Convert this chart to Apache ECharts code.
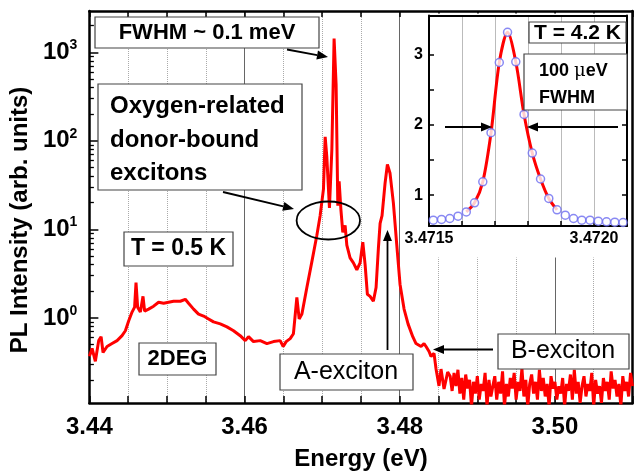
<!DOCTYPE html>
<html>
<head>
<meta charset="utf-8">
<script src="https://cdn.jsdelivr.net/npm/echarts@6/dist/echarts.min.js"></script>
<style>
html, body { margin: 0; padding: 0; background: #fff; }
#main { width: 636px; height: 476px; }
</style>
</head>
<body>
<div id="main"></div>
<script>
// spectrum at T = 0.5 K (eV, arb. units)
var energy = [
  3.4400, 3.44035, 3.44077, 3.44120, 3.44151, 3.44176, 3.44228, 3.44292, 3.44357, 3.44421,
  3.44464, 3.44506, 3.44550, 3.44583, 3.44601, 3.44622, 3.44657, 3.44691, 3.44712, 3.44763,
  3.44828, 3.44892, 3.44957, 3.45021, 3.45085, 3.45172, 3.45236, 3.45278, 3.45343, 3.45407,
  3.45472, 3.45536, 3.45600, 3.45687, 3.45773, 3.45858, 3.45944, 3.46009, 3.46051, 3.46115,
  3.46202, 3.46288, 3.46373, 3.46459, 3.46498, 3.46536, 3.46588, 3.46630, 3.46674, 3.46704,
  3.46739, 3.46803, 3.46867, 3.46932, 3.46974, 3.47017, 3.47039, 3.47060, 3.47094, 3.47125,
  3.47154, 3.47180, 3.47202, 3.47219, 3.47241, 3.47266, 3.47296, 3.47318, 3.47360, 3.47403,
  3.47447, 3.47489, 3.47524, 3.47554, 3.47583, 3.47618, 3.47660, 3.47695, 3.47725, 3.47747,
  3.47772, 3.47811, 3.47841, 3.47875, 3.47918, 3.47962, 3.48004, 3.48056, 3.48107, 3.48168,
  3.48210, 3.48275, 3.48313, 3.48339, 3.48378, 3.48403, 3.48442, 3.48468, 3.48506, 3.48532,
  3.48571, 3.48618
];
var intensity = [
  0.369, 0.453, 0.324, 0.555, 0.615, 0.408, 0.476, 0.514, 0.555, 0.631,
  0.717, 0.926, 1.166, 1.325, 2.51, 1.325, 1.166, 1.755, 1.196, 1.259,
  1.359, 1.506, 1.468, 1.506, 1.545, 1.545, 1.626, 1.468, 1.259, 1.107,
  1.052, 0.975, 0.903, 0.858, 0.794, 0.717, 0.631, 0.555, 0.615, 0.541,
  0.555, 0.514, 0.541, 0.555, 0.476, 0.541, 0.585, 0.664, 1.71, 0.975,
  1.107, 2.21, 4.30, 8.58, 14.3, 28.5, 110.8, 66.4, 17.5, 79.4,
  1430, 430, 18.5, 35.0, 17.1, 9.26, 11.1, 6.64, 4.76, 4.19,
  3.50, 4.19, 7.17, 3.98, 1.85, 1.755, 1.545, 2.21, 6.15, 11.7,
  14.3, 33.3, 54.1, 43.0, 19.95, 6.64, 2.39, 1.259, 0.858, 0.615,
  0.514, 0.476, 0.514, 0.476, 0.419, 0.369, 0.398, 0.265, 0.171, 0.265,
  0.158, 0.245
];
// noisy high energy tail
var tailEnergy = [
  3.48650, 3.48675, 3.48700, 3.48725, 3.48750, 3.48775, 3.48800, 3.48825, 3.48850, 3.48875,
  3.48900, 3.48925, 3.48950, 3.48975, 3.49000, 3.49025, 3.49050, 3.49075, 3.49100, 3.49125,
  3.49150, 3.49175, 3.49200, 3.49225, 3.49250, 3.49275, 3.49300, 3.49325, 3.49350, 3.49375,
  3.49400, 3.49425, 3.49450, 3.49475, 3.49500, 3.49525, 3.49550, 3.49575, 3.49600, 3.49625,
  3.49650, 3.49675, 3.49700, 3.49725, 3.49750, 3.49775, 3.49800, 3.49825, 3.49850, 3.49875,
  3.49900, 3.49925, 3.49950, 3.49975, 3.50000, 3.50025, 3.50050, 3.50075, 3.50100, 3.50125,
  3.50150, 3.50175, 3.50200, 3.50225, 3.50250, 3.50275, 3.50300, 3.50325, 3.50350, 3.50375,
  3.50400, 3.50425, 3.50450, 3.50475, 3.50500, 3.50525, 3.50550, 3.50575, 3.50600, 3.50625,
  3.50650, 3.50675, 3.50700, 3.50725, 3.50750, 3.50775, 3.50800, 3.50825, 3.50850, 3.50875,
  3.50900, 3.50925, 3.50950, 3.50975, 3.51000
];
var tailIntensity = [
  0.22, 0.15, 0.24, 0.17, 0.26, 0.14, 0.21, 0.12, 0.23, 0.16,
  0.20, 0.10, 0.19, 0.14, 0.22, 0.12, 0.18, 0.15, 0.24, 0.10,
  0.20, 0.13, 0.17, 0.22, 0.12, 0.19, 0.14, 0.25, 0.10, 0.18,
  0.13, 0.21, 0.16, 0.24, 0.12, 0.19, 0.15, 0.27, 0.13, 0.20,
  0.10, 0.18, 0.23, 0.14, 0.19, 0.12, 0.26, 0.15, 0.21, 0.13,
  0.18, 0.10, 0.22, 0.16, 0.19, 0.12, 0.17, 0.14, 0.21, 0.10,
  0.18, 0.15, 0.23, 0.12, 0.26, 0.14, 0.19, 0.11, 0.17, 0.22,
  0.13, 0.18, 0.15, 0.24, 0.10, 0.20, 0.14, 0.17, 0.11, 0.21,
  0.15, 0.19, 0.12, 0.25, 0.16, 0.20, 0.13, 0.18, 0.10, 0.22,
  0.15, 0.19, 0.13, 0.24, 0.17
];

// inset, T = 4.2 K, measured points
var insetEnergy = [
  3.471513, 3.471538, 3.471563, 3.471588, 3.471613, 3.471638, 3.471663, 3.471688,
  3.471713, 3.471738, 3.471763, 3.471788, 3.471813, 3.471838, 3.471863, 3.471888,
  3.471913, 3.471938, 3.471963, 3.471988, 3.472013, 3.472038, 3.472063, 3.472088
];
var insetIntensity = [
  0.643, 0.653, 0.667, 0.70, 0.761, 0.89, 1.19, 1.89,
  2.89, 3.32, 2.90, 2.15, 1.60, 1.23, 0.953, 0.79,
  0.714, 0.667, 0.643, 0.643, 0.629, 0.619, 0.614, 0.61
];

var xTickLabels = ['3.44', '3.46', '3.48', '3.50'];
var yDecades = [0, 1, 2, 3];
var insetXTickLabels = ['3.4715', '3.4720'];
var insetYTickLabels = [1, 2, 3];

var FONT = '"Liberation Sans", Arial, sans-serif';
var yMin = -0.96, yMax = 3.466;

var mainData = energy.concat(tailEnergy).map(function (e, i) {
    var v = i < intensity.length ? intensity[i] : tailIntensity[i - intensity.length];
    return [e, Math.log10(v)];
});
var insetData = insetEnergy.map(function (e, i) { return [e, insetIntensity[i]]; });
var fitData = insetData.slice(4, 16);

// minor log ticks
var minorTicks = [];
for (var d = -1; d <= 3; d++) {
    for (var k = 2; k <= 9; k++) {
        var t = d + Math.log10(k);
        if (t > yMin && t < yMax) minorTicks.push(t);
    }
}

var black = { color: '#000', width: 2.5 };
var boldLabel = { fontFamily: FONT, fontWeight: 'bold', fontSize: 24, color: '#000' };

function box(x, y, w, h) {
    return { type: 'rect', z: 40, shape: { x: x, y: y, width: w, height: h },
        style: { fill: '#fff', stroke: '#444', lineWidth: 1.2 } };
}
function label(txt, x, y, size, weight, align) {
    return { type: 'text', z: 41, x: x, y: y,
        style: { text: txt, font: weight + ' ' + size + 'px ' + FONT, fill: '#000',
            textAlign: align || 'center', textVerticalAlign: 'middle',
            align: align || 'center', verticalAlign: 'middle' } };
}
function arrow(x1, y1, x2, y2) {
    var a = Math.atan2(y2 - y1, x2 - x1), L = 11, W = 4.5;
    var bx = x2 - L * Math.cos(a), by = y2 - L * Math.sin(a);
    return [
        { type: 'line', z: 42, shape: { x1: x1, y1: y1, x2: bx, y2: by },
            style: { stroke: '#000', lineWidth: 1.8 } },
        { type: 'polygon', z: 42, shape: { points: [[x2, y2],
            [bx + W * Math.sin(a), by - W * Math.cos(a)],
            [bx - W * Math.sin(a), by + W * Math.cos(a)]] },
            style: { fill: '#000' } }
    ];
}

var elements = [
    // white background of the inset
    { type: 'rect', z: 5, shape: { x: 403, y: 13.5, width: 226, height: 244 }, style: { fill: '#fff' } },
    box(95, 17, 224, 31), label('FWHM ~ 0.1 meV', 207, 33, 22, 'bold'),
    box(98, 84, 204, 106),
    label('Oxygen-related', 110, 106, 24, 'bold', 'left'),
    label('donor-bound', 110, 140, 24, 'bold', 'left'),
    label('excitons', 110, 173, 24, 'bold', 'left'),
    box(124, 232, 109, 34), label('T = 0.5 K', 178.5, 249, 23, 'bold'),
    box(139, 343, 77, 32), label('2DEG', 177.5, 359, 22, 'bold'),
    box(280, 354, 133, 36), label('A-exciton', 346, 372, 25, 'normal'),
    box(498, 334, 131, 35), label('B-exciton', 563, 351, 25, 'normal'),
    box(529, 22, 97, 21), label('T = 4.2 K', 577.5, 33, 21, 'bold'),
    box(524, 54, 103, 56),
    { type: 'text', z: 41, x: 539, y: 71,
        style: { text: '{b|100 }{m|\u03bc}{b|eV}', textAlign: 'left', textVerticalAlign: 'middle',
            align: 'left', verticalAlign: 'middle',
            rich: {
                b: { font: 'bold 18px ' + FONT, fill: '#000', color: '#000' },
                m: { font: 'normal 18px "DejaVu Serif", serif', fill: '#000', color: '#000' }
            } } },
    label('FWHM', 539, 98, 18, 'bold', 'left'),
    { type: 'ellipse', z: 42, shape: { cx: 328.3, cy: 220.5, rx: 31.7, ry: 19 },
        style: { fill: 'none', stroke: '#000', lineWidth: 1.8 } }
].concat(
    arrow(287, 49.5, 328, 57),
    arrow(223, 192, 294, 209),
    arrow(387.5, 350, 387.5, 230),
    arrow(493, 349.5, 433, 349.5),
    arrow(445, 127, 492, 127),
    arrow(618, 127, 527, 127)
);

var chart = echarts.init(document.getElementById('main'));
var option = {
    animation: false,
    backgroundColor: '#fff',
    grid: [
        { left: 89, top: 11, width: 543.5, height: 400 },
        { left: 429, top: 15.5, width: 198, height: 210.5, z: 10 }
    ],
    xAxis: [
        {
            gridIndex: 0, type: 'value', min: 3.44, max: 3.51, interval: 0.005, position: 'bottom',
            axisLine: { onZero: false, lineStyle: black },
            axisTick: { inside: true, length: 7, lineStyle: { color: '#000', width: 1.5 } },
            axisLabel: { customValues: xTickLabels.map(Number), formatter: function (v) { return v.toFixed(2); },
                margin: 12, fontFamily: FONT, fontWeight: 'bold', fontSize: 24, color: '#000' },
            splitLine: { show: true, lineStyle: { color: '#aaa', type: 'dotted', width: 1 } },
            name: 'Energy (eV)', nameLocation: 'middle', nameGap: 44, nameTextStyle: boldLabel
        },
        {
            gridIndex: 0, type: 'value', min: 3.44, max: 3.51, interval: 0.02,
            axisLine: { show: false, onZero: false }, axisTick: { show: false }, axisLabel: { show: false },
            splitLine: { show: true, lineStyle: { color: '#666', width: 1 } }
        },
        {
            gridIndex: 0, type: 'value', min: 3.44, max: 3.51, interval: 0.005, position: 'top',
            axisLine: { onZero: false, lineStyle: black },
            axisTick: { inside: true, length: 6, lineStyle: { color: '#000', width: 1.5 } },
            axisLabel: { show: false }, splitLine: { show: false }
        },
        {
            gridIndex: 1, type: 'value', min: 3.4715, max: 3.4721, interval: 0.0001, position: 'bottom', z: 10,
            axisLine: { onZero: false, lineStyle: { color: '#000', width: 2 } },
            axisTick: { inside: true, length: 5, lineStyle: { color: '#000', width: 1.5 } },
            axisLabel: { customValues: insetXTickLabels.map(Number), formatter: function (v) { return v.toFixed(4); },
                margin: 5, fontFamily: FONT, fontWeight: 'bold', fontSize: 16, color: '#000' },
            splitLine: { show: true, lineStyle: { color: '#bbb', width: 1 } }
        },
        {
            gridIndex: 1, type: 'value', min: 3.4715, max: 3.4721, position: 'top', z: 10,
            axisLine: { onZero: false, lineStyle: { color: '#000', width: 2 } },
            axisTick: { show: false }, axisLabel: { show: false }, splitLine: { show: false }
        }
    ],
    yAxis: [
        {
            gridIndex: 0, type: 'value', min: yMin, max: yMax, position: 'left',
            axisLine: { show: true, onZero: false, lineStyle: black },
            axisTick: { customValues: yDecades, inside: true, length: 9, lineStyle: { color: '#000', width: 1.5 } },
            axisLabel: {
                customValues: yDecades, margin: 12,
                formatter: function (v) { return '{b|10}{s|' + Math.round(v) + '}'; },
                rich: {
                    b: { fontFamily: FONT, fontWeight: 'bold', fontSize: 24, color: '#000', lineHeight: 28 },
                    s: { fontFamily: FONT, fontWeight: 'bold', fontSize: 14, color: '#000', lineHeight: 14, verticalAlign: 'top' }
                }
            },
            splitLine: { show: false },
            name: 'PL Intensity (arb. units)', nameLocation: 'middle', nameGap: 51,
            nameTextStyle: { fontFamily: FONT, fontWeight: 'bold', fontSize: 24, color: '#000', padding: [0, 26, 0, 0] }
        },
        {
            gridIndex: 0, type: 'value', min: yMin, max: yMax, position: 'left',
            axisLine: { show: false, onZero: false },
            axisTick: { customValues: minorTicks, inside: true, length: 4.5, lineStyle: { color: '#000', width: 1.3 } },
            axisLabel: { show: false }, splitLine: { show: false }
        },
        {
            gridIndex: 0, type: 'value', min: yMin, max: yMax, position: 'right',
            axisLine: { show: true, onZero: false, lineStyle: black },
            axisTick: { show: false }, axisLabel: { show: false }, splitLine: { show: false }
        },
        {
            gridIndex: 1, type: 'value', min: 0.56, max: 3.56, position: 'left', z: 10,
            axisLine: { show: true, onZero: false, lineStyle: { color: '#000', width: 2 } },
            axisTick: { customValues: [1, 1.5, 2, 2.5, 3], inside: true, length: 5, lineStyle: { color: '#000', width: 1.5 } },
            axisLabel: { customValues: insetYTickLabels, margin: 6, fontFamily: FONT, fontWeight: 'bold', fontSize: 16, color: '#000' },
            splitLine: { show: false }
        },
        {
            gridIndex: 1, type: 'value', min: 0.56, max: 3.56, position: 'right', z: 10,
            axisLine: { show: true, onZero: false, lineStyle: { color: '#000', width: 2 } },
            axisTick: { customValues: [1, 1.5, 2, 2.5, 3], inside: true, length: 5, lineStyle: { color: '#000', width: 1.5 } },
            axisLabel: { show: false }, splitLine: { show: false }
        }
    ],
    series: [
        {
            name: 'T = 0.5 K', type: 'line', xAxisIndex: 0, yAxisIndex: 0, z: 2,
            data: mainData, showSymbol: false, lineStyle: { color: '#ff0000', width: 3 }
        },
        {
            name: 'fit', type: 'line', xAxisIndex: 3, yAxisIndex: 3, z: 11,
            data: fitData, smooth: 0.3, showSymbol: false, lineStyle: { color: '#ff0000', width: 3 }
        },
        {
            name: 'T = 4.2 K', type: 'scatter', xAxisIndex: 3, yAxisIndex: 3, z: 12,
            data: insetData, symbol: 'circle', symbolSize: 8,
            itemStyle: { color: '#fff', borderColor: '#6b6bf0', borderWidth: 1.5 }
        }
    ],
    graphic: { elements: elements }
};
chart.setOption(option);
</script>
</body>
</html>
